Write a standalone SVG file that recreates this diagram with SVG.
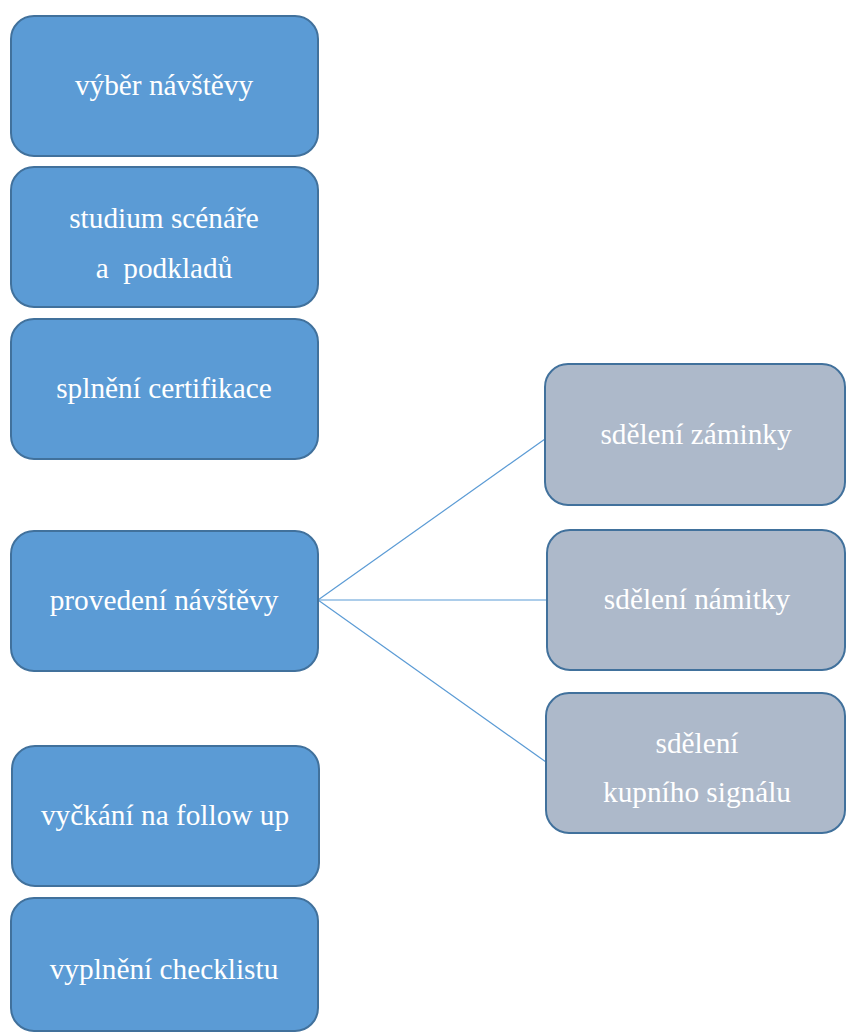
<svg xmlns="http://www.w3.org/2000/svg" width="846" height="1034" viewBox="0 0 846 1034">
<style>
.b{fill:#5B9BD5;stroke:#41719C;stroke-width:2}
.g{fill:#ADB9CA;stroke:#41719C;stroke-width:2}
text{font-family:'Liberation Serif','Times New Roman',serif;font-size:29.3px;fill:#fff;text-anchor:middle;white-space:pre}
.c line{stroke:#5B9BD5;stroke-width:1.2}
</style>
<rect width="846" height="1034" fill="#fff"/>
<g class="c">
<line x1="318" y1="600" x2="545" y2="439"/>
<line x1="318" y1="600" x2="547" y2="600"/>
<line x1="318" y1="600" x2="546" y2="762"/>
</g>
<g id="n1"><rect class="b" x="11" y="16" width="307" height="140" rx="23"/><text x="164" y="95">výběr návštěvy</text></g>
<g id="n2"><rect class="b" x="11" y="167" width="307" height="140" rx="23"/><text x="164" y="228">studium scénáře</text><text x="164" y="278" xml:space="preserve">a  podkladů</text></g>
<g id="n3"><rect class="b" x="11" y="319" width="307" height="140" rx="23"/><text x="164" y="398">splnění certifikace</text></g>
<g id="n4"><rect class="b" x="11" y="531" width="307" height="140" rx="23"/><text x="164" y="610">provedení návštěvy</text></g>
<g id="n5"><rect class="b" x="12" y="746" width="307" height="140" rx="23"/><text x="165" y="825">vyčkání na follow up</text></g>
<g id="n6"><rect class="b" x="11" y="898" width="307" height="133" rx="23"/><text x="164" y="979">vyplnění checklistu</text></g>
<g id="r1"><rect class="g" x="545" y="364" width="300" height="141" rx="23"/><text x="696" y="444">sdělení záminky</text></g>
<g id="r2"><rect class="g" x="547" y="530" width="298" height="140" rx="23"/><text x="697" y="609">sdělení námitky</text></g>
<g id="r3"><rect class="g" x="546" y="693" width="299" height="140" rx="23"/><text x="697" y="753">sdělení</text><text x="697" y="802">kupního signálu</text></g>
</svg>
